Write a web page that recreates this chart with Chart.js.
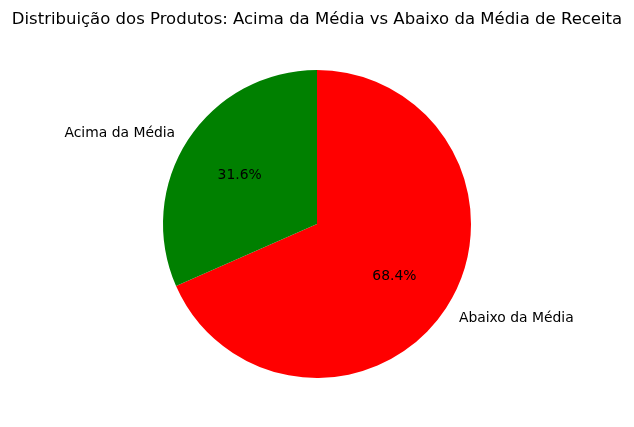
<!DOCTYPE html>
<html>
<head>
<meta charset="utf-8">
<script src="https://cdn.jsdelivr.net/npm/chart.js@4/dist/chart.umd.min.js"></script>
<style>
html,body{margin:0;padding:0;background:#fff;}
#wrap{width:634px;height:427px;position:relative;}
</style>
</head>
<body>
<div id="wrap"><canvas id="c" width="634" height="427"></canvas></div>
<script>
const chartTitle = "Distribuição dos Produtos: Acima da Média vs Abaixo da Média de Receita";
const categories = ["Abaixo da Média", "Acima da Média"];
const values = [68.4, 31.6];
const colors = ["#ff0000", "#008000"];

const labelPlugin = {
  id: 'pieLabels',
  afterDraw(chart) {
    const ctx = chart.ctx;
    const meta = chart.getDatasetMeta(0);
    const total = values.reduce((a, b) => a + b, 0);
    ctx.save();
    ctx.fillStyle = '#000';
    // title
    ctx.font = '16.5px "DejaVu Sans"';
    ctx.textAlign = 'center';
    ctx.textBaseline = 'alphabetic';
    ctx.fillText(chartTitle, 317, 24);
    const fs = 13.9;
    const capOff = fs * 0.729 / 2;
    ctx.font = fs + 'px "DejaVu Sans"';
    meta.data.forEach((arc, i) => {
      const p = arc.getProps(['x', 'y', 'startAngle', 'endAngle', 'outerRadius'], true);
      const mid = (p.startAngle + p.endAngle) / 2;
      const c = Math.cos(mid), s = Math.sin(mid);
      const lx = p.x + 1.1 * p.outerRadius * c;
      const ly = p.y + 1.1 * p.outerRadius * s;
      ctx.textAlign = c < 0 ? 'right' : 'left';
      ctx.textBaseline = 'alphabetic';
      ctx.fillText(categories[i], lx, ly + capOff);
      const px = p.x + 0.6 * p.outerRadius * c;
      const py = p.y + 0.6 * p.outerRadius * s;
      ctx.textAlign = 'center';
      ctx.fillText((values[i] / total * 100).toFixed(1) + '%', px, py + capOff);
    });
    ctx.restore();
  }
};

new Chart(document.getElementById('c'), {
  type: 'pie',
  data: {
    labels: categories,
    datasets: [{
      data: values,
      backgroundColor: colors,
      borderWidth: 0
    }]
  },
  options: {
    responsive: false,
    animation: false,
    rotation: 0,
    layout: { padding: { top: 70, bottom: 49, left: 100, right: 100 } },
    plugins: {
      legend: { display: false },
      title: { display: false },
      tooltip: { enabled: false }
    }
  },
  plugins: [labelPlugin]
});
</script>
</body>
</html>
